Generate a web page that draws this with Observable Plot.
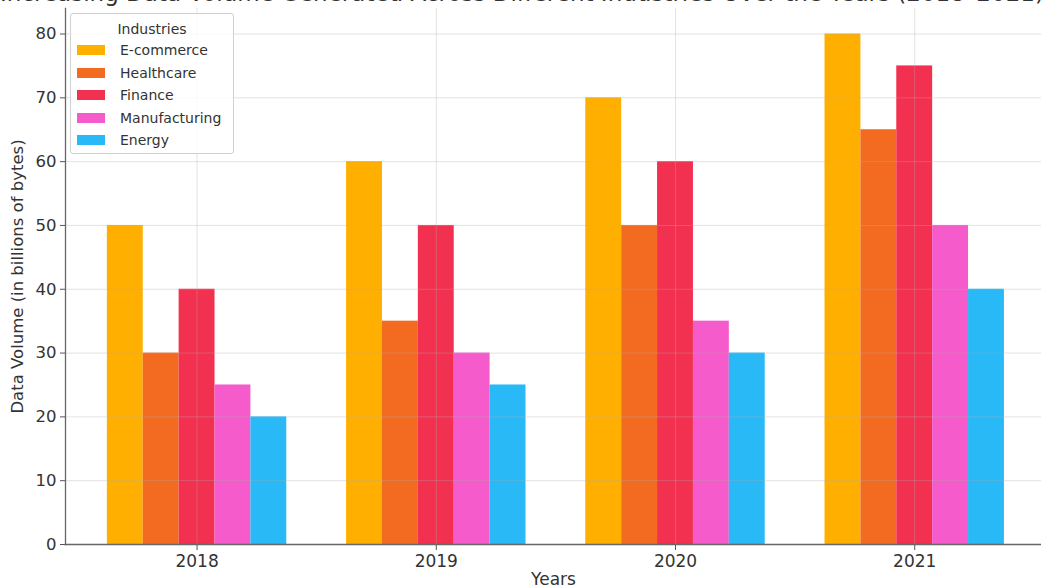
<!DOCTYPE html>
<html>
<head>
<meta charset="utf-8">
<script src="https://cdn.jsdelivr.net/npm/d3@7"></script>
<script src="https://cdn.jsdelivr.net/npm/@observablehq/plot@0.6"></script>
<style>
  html, body { margin: 0; padding: 0; background: #fff; overflow: hidden; }
  #wrap { position: relative; width: 1041px; height: 588px; font-family: "DejaVu Sans", sans-serif; }
  #title { position: absolute; left: 0; top: -18px; width: 1041px; text-align: center; font-size: 23px; line-height: 23px; color: #333; white-space: nowrap; z-index: 2; }
  #legend { position: absolute; left: 70px; top: 13px; width: 164px; height: 141px; box-sizing: border-box; border: 1px solid #d0d0d0; border-radius: 3px; background: rgba(255,255,255,0.85); font-size: 14px; color: #333; z-index: 2; }
  #legend .ttl { text-align: center; margin-top: 5px; height: 20px; line-height: 20px; }
  #legend .row { display: flex; align-items: center; height: 22.5px; }
  #legend .sw { width: 28px; height: 10px; margin-left: 6px; margin-right: 15px; }
</style>
</head>
<body>
<div id="wrap">
  <div id="title"></div>
  <div id="chart"></div>
  <div id="legend"></div>
</div>
<script>
const titleText = "Increasing Data Volume Generated Across Different Industries Over the Years (2018–2021)";
const years = [2018, 2019, 2020, 2021];
const industries = ["E-commerce", "Healthcare", "Finance", "Manufacturing", "Energy"];
const ecommerce = [50, 60, 70, 80];
const healthcare = [30, 35, 50, 65];
const finance = [40, 50, 60, 75];
const manufacturing = [25, 30, 35, 50];
const energy = [20, 25, 30, 40];
const colors = ["#FFAF00", "#F26B21", "#F2304F", "#F55BCB", "#29B9F6"];
const yTicks = [0, 10, 20, 30, 40, 50, 60, 70, 80];

const series = [ecommerce, healthcare, finance, manufacturing, energy];
const data = years.flatMap((yr, j) => industries.map((ind, i) => ({year: yr, industry: ind, i, value: series[i][j]})));
const barWidth = 0.15;

document.getElementById("title").textContent = titleText;

const chart = Plot.plot({
  width: 1041,
  height: 588,
  marginLeft: 65,
  marginRight: 0,
  marginTop: 8,
  marginBottom: 44,
  style: {fontFamily: "DejaVu Sans, sans-serif", fontSize: "17px", color: "#333", background: "white"},
  x: {domain: [2017.45, 2021.53]},
  y: {domain: [0, 84]},
  color: {domain: industries, range: colors},
  marks: [
    Plot.rectY(data, {
      x1: d => d.year + (d.i - 2) * barWidth - barWidth / 2,
      x2: d => d.year + (d.i - 2) * barWidth + barWidth / 2,
      y: "value",
      fill: "industry"
    }),
    Plot.gridY(yTicks, {stroke: "#b0b0b0", strokeOpacity: 0.35, strokeWidth: 1}),
    Plot.gridX(years, {stroke: "#b0b0b0", strokeOpacity: 0.35, strokeWidth: 1}),
    Plot.axisY(yTicks, {tickSize: 5, tickPadding: 4, stroke: "#555", label: "Data Volume (in billions of bytes)", labelAnchor: "center", labelOffset: 54, labelArrow: "none", fontSize: 16.5}),
    Plot.axisX(years, {tickSize: 6, tickPadding: 4, stroke: "#555", tickFormat: d => String(d), label: "Years", labelAnchor: "center", labelOffset: 40, labelArrow: "none"}),
    Plot.frame({anchor: "left", stroke: "#666", strokeWidth: 1.3}),
    Plot.frame({anchor: "bottom", stroke: "#666", strokeWidth: 1.3})
  ]
});
document.getElementById("chart").appendChild(chart);

const legend = document.getElementById("legend");
const lt = document.createElement("div");
lt.className = "ttl";
lt.textContent = "Industries";
legend.appendChild(lt);
industries.forEach((ind, i) => {
  const row = document.createElement("div");
  row.className = "row";
  const sw = document.createElement("span");
  sw.className = "sw";
  sw.style.background = colors[i];
  const lab = document.createElement("span");
  lab.textContent = ind;
  row.appendChild(sw);
  row.appendChild(lab);
  legend.appendChild(row);
});
</script>
</body>
</html>
